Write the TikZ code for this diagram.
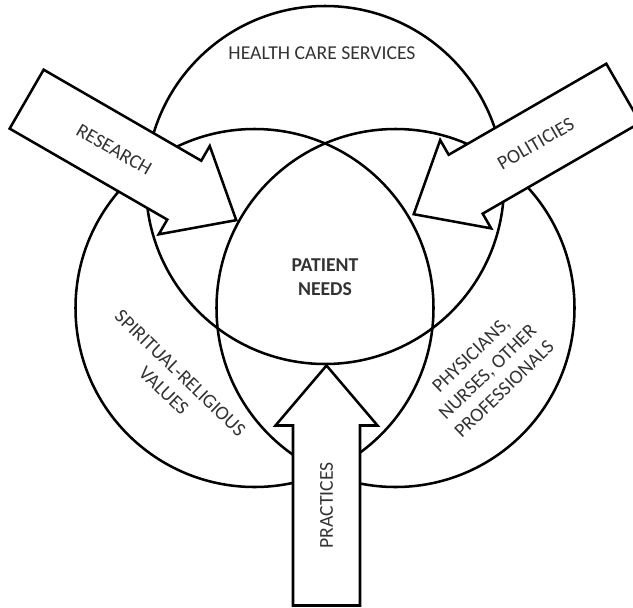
\documentclass[tikz,border=0pt]{standalone}
\usepackage{fontspec}
\setmainfont{Carlito}
\usepackage{tikz}
\usetikzlibrary{calc}
\tikzset{
    % Circles of the three fields and the block arrows that push into them
    ring/.style={draw,line width=1.8pt}, block arrow/.style={draw,fill=white,line width=1.8pt,line join=miter},
    field text/.style={font=\fontsize{14}{17}\selectfont,text=black!80,align=center}
    }
\begin{document}
\begin{tikzpicture}[x=0.025cm,y=-0.025cm] % one unit is one pixel of the sketch, y runs down
        \useasboundingbox (0,0) rectangle (633,607);
        \clip (0,0) rectangle (633,607);
        % The three circles
        \coordinate (care) at (325,185);
        \coordinate (values) at (254.5,308);
        \coordinate (staff) at (395.5,308);
        \draw[ring] (care) circle[radius=179];
        \draw[ring] (values) circle[radius=179];
        \draw[ring] (staff) circle[radius=179];
        \node[field text] (care label) at (322,53) {HEALTH CARE SERVICES};
        \node[field text,font=\fontsize{14}{17}\selectfont\bfseries] (needs) at (325,277) {PATIENT\\NEEDS};
        \node[field text,rotate=-44] (values label) at (172,382) {SPIRITUAL-RELIGIOUS\\VALUES};
        \node[field text,rotate=44] (staff label) at (487.5,372) {PHYSICIANS,\\NURSES, OTHER\\PROFESSIONALS};
        % The arrows, drawn from their tail along their own x axis
        \begin{scope}[shift={(26.65,99.15)},rotate=-30]
        \draw[block arrow] (0,-34) -- (182,-34) -- (182,-51) -- (242,0) -- (182,51) -- (182,34) -- (0,34) -- cycle;
        \node[field text,rotate=-30] (research) at (101,0) {RESEARCH};
        \end{scope}
        \begin{scope}[shift={(623.3,93.2)},rotate=210]
        \draw[block arrow] (0,-34) -- (182,-34) -- (182,-51) -- (242,0) -- (182,51) -- (182,34) -- (0,34) -- cycle;
        \node[field text,rotate=30] (politicies) at (101,0) {POLITICIES};
        \end{scope}
        \begin{scope}[shift={(326.5,605.5)},rotate=90]
        \draw[block arrow] (0,-33.5) -- (180,-33.5) -- (180,-51) -- (240,0) -- (180,51) -- (180,33.5) -- (0,33.5) -- cycle;
        \node[field text,rotate=90] (practices) at (100,0) {PRACTICES};
        \end{scope}
    \end{tikzpicture}
\end{document}
